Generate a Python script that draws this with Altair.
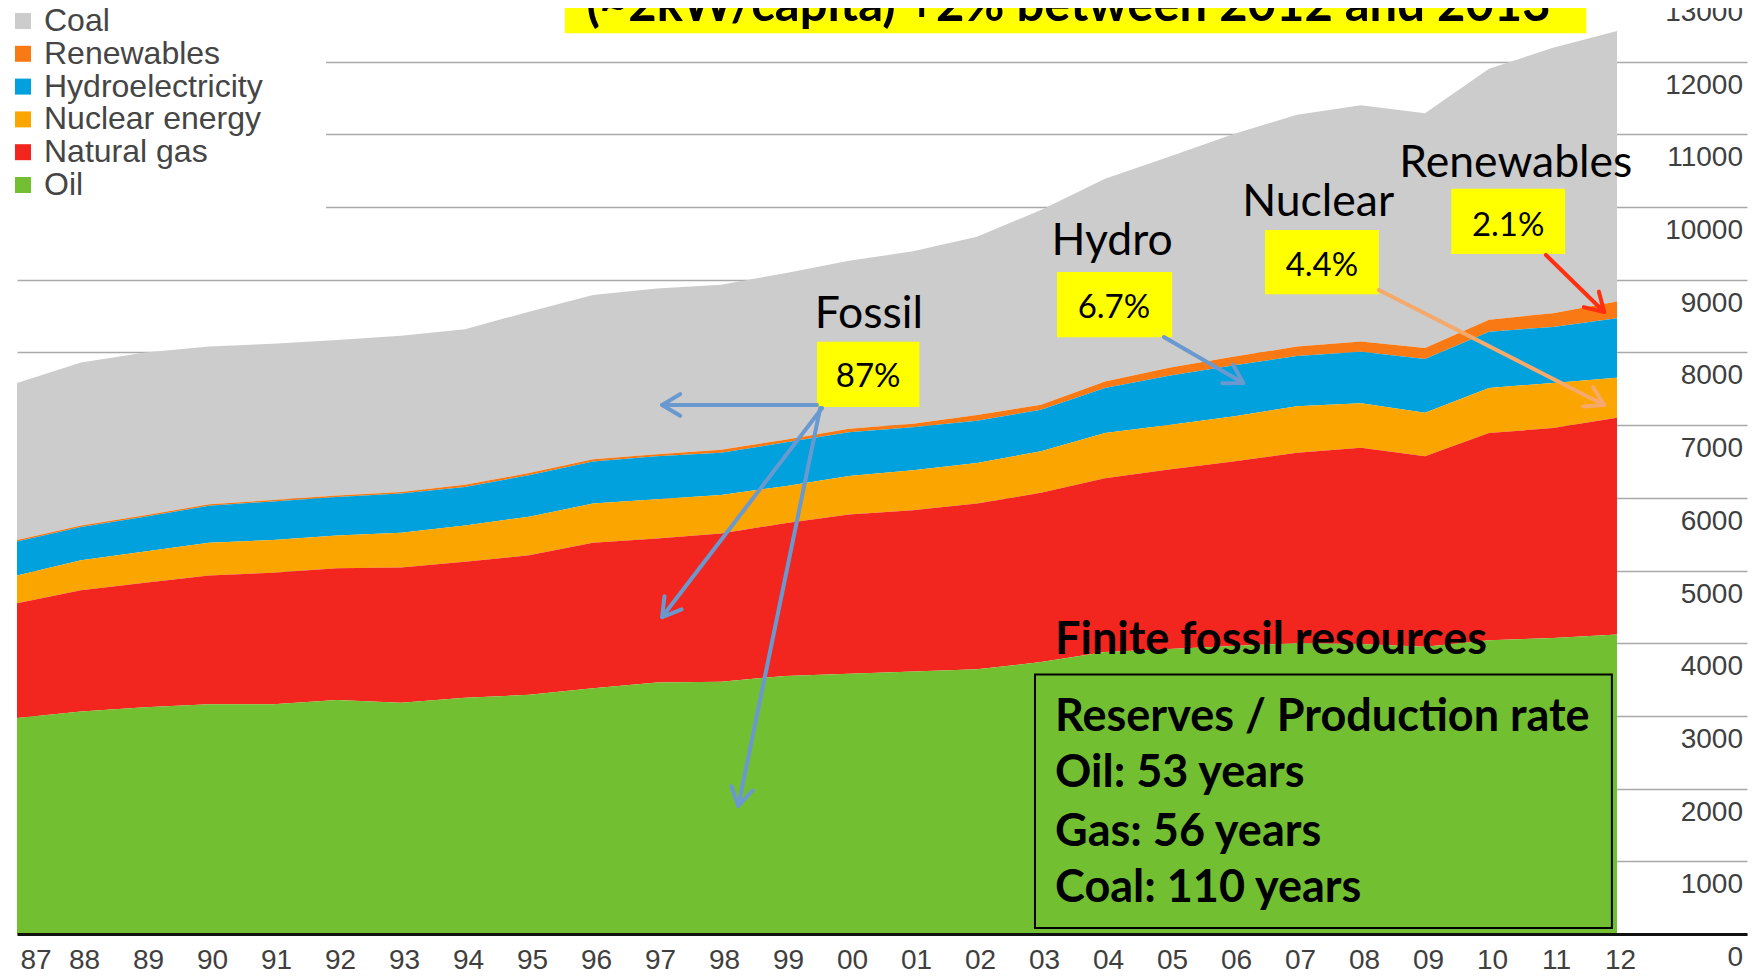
import math
import altair as alt
import pandas as pd

# ---------------- data (Mtoe) ----------------
years = list(range(1987, 2013))
oil = [2970, 3060, 3120, 3160, 3160, 3220, 3180, 3250, 3290, 3380, 3460, 3470, 3550,
       3580, 3610, 3640, 3740, 3880, 3920, 3960, 4000, 3990, 3950, 4040, 4070, 4120]
gas = [1580, 1670, 1710, 1770, 1810, 1810, 1860, 1870, 1920, 2000, 1980, 2040, 2100,
       2190, 2220, 2280, 2330, 2390, 2470, 2540, 2620, 2700, 2620, 2850, 2890, 2980]
nuclear = [380, 410, 430, 450, 450, 450, 480, 500, 530, 540, 540, 530, 510,
           530, 550, 560, 570, 620, 610, 620, 640, 610, 600, 620, 620, 550]
hydro = [470, 460, 480, 510, 530, 530, 540, 530, 570, 580, 590, 580, 600,
         600, 590, 580, 570, 620, 680, 700, 690, 710, 740, 775, 770, 820]
renewables = [20, 20, 20, 20, 20, 20, 20, 30, 30, 30, 30, 40, 40,
              50, 50, 80, 70, 90, 110, 120, 130, 140, 150, 165, 190, 230]
coal = [2160, 2240, 2240, 2170, 2150, 2140, 2150, 2140, 2220, 2260, 2280, 2270, 2290,
        2310, 2370, 2450, 2680, 2790, 2900, 3060, 3190, 3250, 3230, 3450, 3650, 3720]

sources = ["Coal", "Renewables", "Hydroelectricity", "Nuclear energy", "Natural gas", "Oil"]
colors = ["#cccccc", "#f97a14", "#00a1dc", "#fba500", "#f3251f", "#73bf32"]
series = {"Coal": coal, "Renewables": renewables, "Hydroelectricity": hydro,
          "Nuclear energy": nuclear, "Natural gas": gas, "Oil": oil}
stack_rank = {"Oil": 0, "Natural gas": 1, "Nuclear energy": 2,
              "Hydroelectricity": 3, "Renewables": 4, "Coal": 5}

y_ticks = list(range(0, 14000, 1000))

rows = []
for s in sources:
    for yr, v in zip(years, series[s]):
        rows.append({"year": yr, "value": v, "source": s, "rank": stack_rank[s]})
df = pd.DataFrame(rows)

# annotation content (anchored in data units)
pct_labels = ["87%", "6.7%", "4.4%", "2.1%"]
pct_x = [2000.3, 2004.14, 2007.39, 2010.3]
pct_y = [7660, 8610, 9190, 9740]
box_x = [1999.5, 2003.25, 2006.5, 2009.41]
box_x2 = [2001.1, 2005.05, 2008.28, 2011.19]
box_y = [7250, 8210, 8800, 9355]
box_y2 = [8145, 9105, 9685, 10250]

cat_labels = ["Fossil", "Hydro", "Nuclear", "Renewables"]
cat_x = [2000.31, 2004.11, 2007.33, 2010.42]
cat_y = [8336, 9340, 9876, 10413]

arrow_x = [1999.5, 1999.58, 1999.55, 2004.92, 2008.28, 2010.89]
arrow_y = [7277, 7235, 7235, 8212, 8858, 9340]
arrow_x2 = [1997.08, 1997.08, 1998.27, 2006.16, 2011.80, 2011.80]
arrow_y2 = [7277, 4360, 1761, 7579, 7277, 8556]
arrow_col = ["#6a99cf", "#6a99cf", "#6a99cf", "#6a99cf", "#f5a96b", "#ff2f0f"]

title_text = "(~2kW/capita) +2% between 2012 and 2013"
finite_title = "Finite fossil resources"
finite_lines = ["Reserves / Production rate", "Oil: 53 years", "Gas: 56 years", "Coal: 110 years"]
finite_y = [2792, 2022, 1210, 440]

# ---------------- geometry ----------------
W, H = 1730, 926
PX_YEAR = 64.0
PX_UNIT = 0.0727
X0, X1 = 1987, 1987 + W / PX_YEAR
Y1 = H / PX_UNIT

xscale = alt.Scale(domain=[X0, X1], nice=False, zero=False)
yscale = alt.Scale(domain=[0, Y1], nice=False, zero=False)

xaxis = alt.Axis(values=years, format="d", labelExpr="substring(datum.label, 2)",
                 labelFont="Liberation Sans", labelFontSize=28, labelColor="#3f3f3f",
                 labelPadding=26, labelBaseline="middle", labelFlush=True, labelOffset=3,
                 labelOverlap=False, ticks=False, grid=False, domainColor="#111111",
                 domainWidth=3, title=None, zindex=1)
yaxis = alt.Axis(orient="right", values=y_ticks[:-1], labels=False, ticks=False,
                 domain=False, grid=True, gridColor="#a9a9a9", gridWidth=1.6, title=None,
                 zindex=0)

legend = alt.Legend(orient="none", legendX=-10, legendY=-3, title=None, symbolType="square",
                    symbolSize=256, symbolStrokeWidth=0, labelFont="Liberation Sans",
                    labelFontSize=32, labelColor="#454545", labelOffset=5, rowPadding=0.8,
                    padding=0, labelLimit=400)

areas = alt.Chart(df).mark_area(interpolate="linear").encode(
    x=alt.X("year:Q", scale=xscale, axis=xaxis),
    y=alt.Y("value:Q", stack="zero", scale=yscale, axis=yaxis),
    color=alt.Color("source:N", scale=alt.Scale(domain=sources, range=colors), legend=legend),
    order=alt.Order("rank:Q", sort="ascending"),
)


def X(f):
    return alt.X(f + ":Q", scale=xscale, axis=xaxis)


def Y(f):
    return alt.Y(f + ":Q", scale=yscale, axis=yaxis)


cover = alt.Chart(pd.DataFrame({"x": [1986.8], "x2": [1991.83], "y": [9300], "y2": [13500]})).mark_rect(
    fill="white").encode(x=X("x"), x2="x2:Q", y=Y("y"), y2="y2:Q")

boxes_df = pd.DataFrame({"x": box_x + [1995.56], "x2": box_x2 + [2011.52],
                         "y": box_y + [12390], "y2": box_y2 + [13200]})
boxes = alt.Chart(boxes_df).mark_rect(fill="#ffff00").encode(
    x=X("x"), x2="x2:Q", y=Y("y"), y2="y2:Q")

fbox = alt.Chart(pd.DataFrame({"x": [2002.906], "x2": [2011.92], "y": [83], "y2": [3569]})).mark_rect(
    fillOpacity=0, stroke="black", strokeWidth=2).encode(x=X("x"), x2="x2:Q", y=Y("y"), y2="y2:Q")

angles = []
for a, b, c, d in zip(arrow_x, arrow_y, arrow_x2, arrow_y2):
    dx = (c - a) * PX_YEAR
    dy = -(d - b) * PX_UNIT
    angles.append(math.degrees(math.atan2(dy, dx)) % 360)
arr_df = pd.DataFrame({"x": arrow_x, "y": arrow_y, "x2": arrow_x2, "y2": arrow_y2,
                       "col": arrow_col, "ang": angles})
shafts = alt.Chart(arr_df).mark_rule(strokeWidth=4, strokeCap="round").encode(
    x=X("x"), x2="x2:Q", y=Y("y"), y2="y2:Q", color=alt.Color("col:N", scale=None))
heads = alt.Chart(arr_df).mark_point(
    shape="M -1 -0.6 L 0 0 L -1 0.6", filled=False, strokeWidth=4, size=1300, opacity=1,
    strokeCap="round", strokeJoin="round").encode(
    x=X("x2"), y=Y("y2"), stroke=alt.Stroke("col:N", scale=None),
    angle=alt.Angle("ang:Q", scale=None))

pct = alt.Chart(pd.DataFrame({"x": pct_x, "y": pct_y, "t": pct_labels})).mark_text(
    font="Lato", fontSize=33, baseline="middle", align="center", color="black").encode(
    x=X("x"), y=Y("y"), text="t:N")
cats = alt.Chart(pd.DataFrame({"x": cat_x, "y": cat_y, "t": cat_labels})).mark_text(
    font="Lato", fontSize=44.5, baseline="alphabetic", align="center", color="black").encode(
    x=X("x"), y=Y("y"), text="t:N")
title = alt.Chart(pd.DataFrame({"x": [2003.43], "y": [12558], "t": [title_text]})).mark_text(
    font="Lato", fontWeight="bold", fontSize=49, baseline="alphabetic", align="center",
    color="black").encode(x=X("x"), y=Y("y"), text="t:N")
fin_df = pd.DataFrame({"x": [2003.22] * 5, "y": [3851] + finite_y, "t": [finite_title] + finite_lines})
fin = alt.Chart(fin_df).mark_text(
    font="Lato", fontWeight="bold", fontSize=45, baseline="alphabetic", align="left",
    color="black").encode(x=X("x"), y=Y("y"), text="t:N")

ylab_df = pd.DataFrame({"v": y_ticks, "t": [str(v) for v in y_ticks]})
ylabels = alt.Chart(ylab_df).mark_text(
    font="Liberation Sans", fontSize=28, align="right", baseline="middle", dy=24,
    color="#3f3f3f").encode(x=alt.value(W - 4), y=Y("v"), text="t:N")

chart = alt.layer(areas, cover, boxes, fbox, shafts, heads, pct, cats, title, fin, ylabels).properties(
    width=W, height=H, autosize=alt.AutoSizeParams(type="none"),
    padding={"left": 9, "top": 0, "right": 7, "bottom": 42},
).configure_view(stroke=None)

chart.save("out.html", embed_options={"renderer": "svg", "actions": False})
